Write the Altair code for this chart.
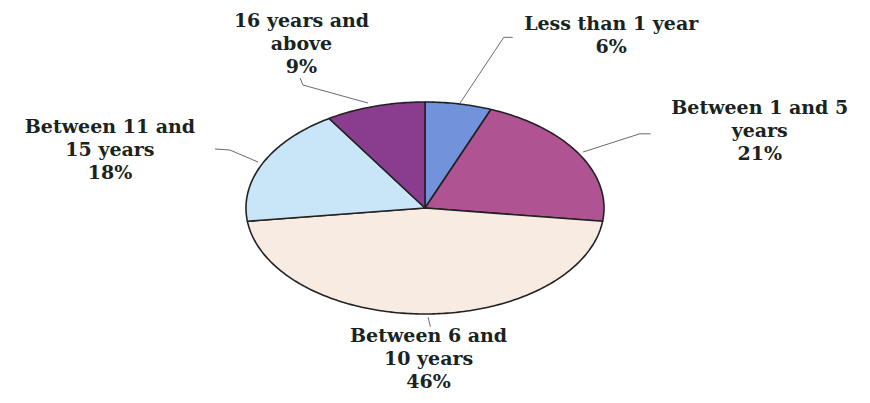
import math
import altair as alt
import pandas as pd

# ---- data ----
categories = ["Less than 1 year", "Between 1 and 5 years", "Between 6 and 10 years",
              "Between 11 and 15 years", "16 years and above"]
values = [6, 21, 46, 18, 9]
label_text = ["Less than 1 year\n6%", "Between 1 and 5\nyears\n21%", "Between 6 and\n10 years\n46%",
              "Between 11 and\n15 years\n18%", "16 years and\nabove\n9%"]

# ---- styles / layout ----
slice_colors = ["#7293dc", "#b05392", "#f8ece2", "#c9e6f8", "#8a3c8f"]
# label anchors (first line) in pie units (x: horizontal radius = 1, y: vertical radius = 1)
label_x = [1.04, 1.87, 0.02, -1.76, -0.69]
label_y = [1.736, 0.943, -1.208, 0.764, 1.764]
# leader polylines in pie units
leaders = {
    "Less than 1 year": [(0.49, 1.61), (0.44, 1.61), (0.196, 0.99)],
    "Between 1 and 5 years": [(1.26, 0.70), (1.20, 0.70), (0.883, 0.528)],
    "Between 6 and 10 years": [(0.017, -1.03), (0.03, -1.12)],
    "Between 11 and 15 years": [(-1.173, 0.557), (-1.09, 0.547), (-0.933, 0.434)],
    "16 years and above": [(-0.698, 1.226), (-0.682, 1.16), (-0.318, 0.99)],
}

# ---- build slice polygons from the values ----
rows = []
total = sum(values)
start = 0.0
for cat, v in zip(categories, values):
    end = start + v / total
    idx = 0
    rows.append({"cat": cat, "i": idx, "x": 0.0, "y": 0.0}); idx += 1
    n = max(4, int(v * 4))
    for k in range(n + 1):
        f = start + (end - start) * k / n
        a = 2 * math.pi * f
        rows.append({"cat": cat, "i": idx, "x": math.sin(a), "y": math.cos(a)}); idx += 1
    rows.append({"cat": cat, "i": idx, "x": 0.0, "y": 0.0})
    start = end
poly = pd.DataFrame(rows)

lab = pd.DataFrame({"cat": categories, "label": label_text, "x": label_x, "y": label_y})
lead_rows = []
for cat, pts in leaders.items():
    for j, (px, py) in enumerate(pts):
        lead_rows.append({"cat": cat, "i": j, "x": px, "y": py})
lead = pd.DataFrame(lead_rows)

W, H = 854, 387
cx, cy, rx, ry = 417, 200, 179, 106
xs = alt.Scale(domain=[-cx / rx, (W - cx) / rx], range=[0, W], nice=False, zero=False)
ys = alt.Scale(domain=[-(H - cy) / ry, cy / ry], range=[H, 0], nice=False, zero=False)

xenc = alt.X("x:Q", scale=xs, axis=None)
yenc = alt.Y("y:Q", scale=ys, axis=None)

pie = alt.Chart(poly).mark_line(stroke="#222222", strokeWidth=1.6, strokeJoin="round").encode(
    x=xenc, y=yenc,
    detail="cat:N",
    order="i:Q",
    fill=alt.Fill("cat:N", scale=alt.Scale(domain=categories, range=slice_colors), legend=None),
)

lines = alt.Chart(lead).mark_line(stroke="#6a6a6a", strokeWidth=1).encode(
    x=xenc, y=yenc, detail="cat:N", order="i:Q"
)

texts = alt.Chart(lab).mark_text(
    font="DejaVu Serif", fontWeight="bold", fontSize=19, lineBreak="\n",
    lineHeight=23, align="center", baseline="middle", color="#1a241e"
).encode(x=xenc, y=yenc, text="label:N")

chart = alt.layer(pie, lines, texts).properties(
    width=W, height=H, padding=0, autosize=alt.AutoSizeParams(type="none"), background="white"
).configure_view(stroke=None)

chart.save("out.html", embed_options={"renderer": "svg", "actions": False})
